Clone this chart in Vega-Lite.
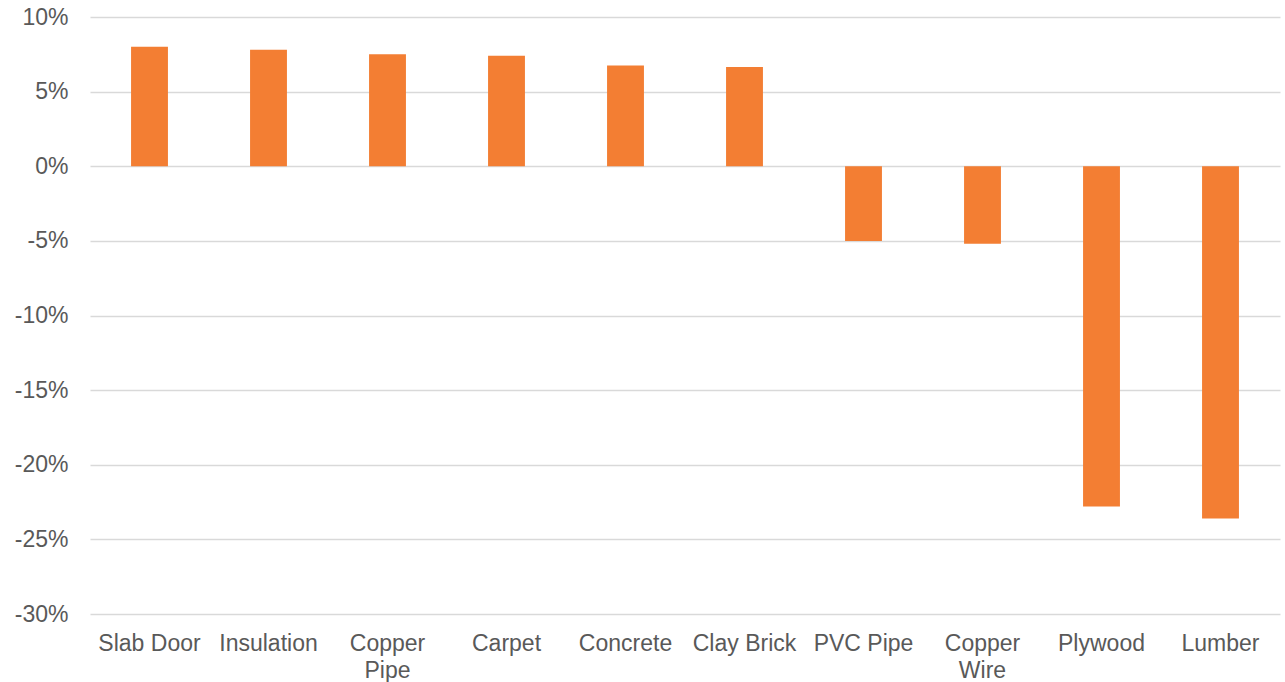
{
  "$schema": "https://vega.github.io/schema/vega-lite/v6.json",
  "width": 1190,
  "height": 597,
  "autosize": {"type": "none"},
  "padding": {"left": 90, "top": 17, "right": 5, "bottom": 68},
  "background": "white",
  "data": {
    "values": [
      {"material": "Slab Door", "change": 0.080},
      {"material": "Insulation", "change": 0.078},
      {"material": "Copper Pipe", "change": 0.075},
      {"material": "Carpet", "change": 0.074},
      {"material": "Concrete", "change": 0.0675},
      {"material": "Clay Brick", "change": 0.0665},
      {"material": "PVC Pipe", "change": -0.050},
      {"material": "Copper Wire", "change": -0.052},
      {"material": "Plywood", "change": -0.228},
      {"material": "Lumber", "change": -0.236}
    ]
  },
  "mark": {"type": "bar", "color": "#F37E33"},
  "encoding": {
    "x": {
      "field": "material",
      "type": "nominal",
      "sort": null,
      "scale": {"paddingInner": 0.69, "paddingOuter": 0.345},
      "axis": {
        "title": null,
        "labelAngle": 0,
        "domain": false,
        "ticks": false,
        "labelFont": "Liberation Sans",
        "labelFontSize": 23,
        "labelColor": "#595959",
        "labelPadding": 18,
        "labelLineHeight": 27,
        "labelLimit": 200,
        "labelExpr": "indexof(datum.value, 'Copper') == 0 ? split(datum.value, ' ') : datum.value"
      }
    },
    "y": {
      "field": "change",
      "type": "quantitative",
      "scale": {"domain": [-0.3, 0.1], "nice": false},
      "axis": {
        "title": null,
        "values": [-0.3, -0.25, -0.2, -0.15, -0.1, -0.05, 0, 0.05, 0.1],
        "labelExpr": "replace(format(datum.value, '.0%'), '\u2212', '-')",
        "domain": false,
        "ticks": false,
        "grid": true,
        "gridColor": "#D9D9D9",
        "gridWidth": 1.5,
        "labelFont": "Liberation Sans",
        "labelFontSize": 23,
        "labelColor": "#595959",
        "labelPadding": 22
      }
    }
  },
  "config": {"view": {"stroke": null}}
}
